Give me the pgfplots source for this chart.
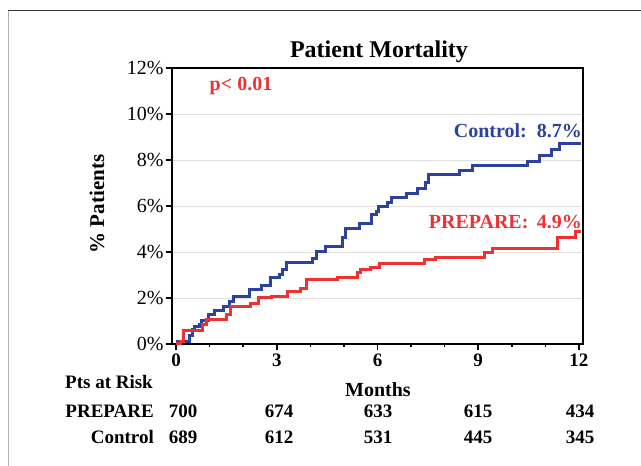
\documentclass[border=0pt]{standalone}
\usepackage{pgfplots}
\pgfplotsset{compat=1.18}
\usepackage{fontspec}
\setmainfont{Liberation Serif}
\newcommand\fs[1]{\fontsize{#1}{#1}\selectfont}
\definecolor{ctrlblue}{RGB}{44,66,160}
\definecolor{prepred}{RGB}{238,50,50}
\begin{document}
\begin{tikzpicture}
\useasboundingbox (0pt,0pt) rectangle (641pt,466pt);
\fill[white] (0pt,0pt) rectangle (641pt,466pt);
\draw[gray!60, line width=1.5pt] (8.5pt,0pt) -- (8.5pt,456pt);
\draw[black!80, line width=1.2pt] (8pt,455.5pt) -- (641pt,455.5pt);
\begin{axis}[
  at={(172pt,122pt)}, anchor=south west,
  scale only axis, width=411pt, height=276pt,
  xmin=-0.12, xmax=12.12, ymin=0, ymax=12,
  xtick={0,3,6,9,12}, minor xtick={1,2,4,5,7,8,10,11},
  ytick={0,2,4,6,8,10,12},
  yticklabels={0\%,2\%,4\%,6\%,8\%,10\%,12\%},
  xticklabels={0,3,6,9,12},
  xtick pos=bottom, ytick pos=left,
  tick align=outside,
  major tick length=6pt, minor tick length=3.5pt,
  every tick/.style={black, line width=1.5pt},
  axis line style={line width=2pt, black},
  ymajorgrids, major grid style={gray!25, line width=0.7pt},
  yticklabel style={font=\fs{20}, xshift=1pt},
  xticklabel style={font=\bfseries\fs{19}, yshift=0pt},
  clip=false,
]
\addplot[const plot, ctrlblue, line width=3pt] coordinates {
(0,0) (0.03,0.12) (0.41,0.35) (0.48,0.62) (0.55,0.74) (0.70,0.84) (0.77,1.0)
(0.97,1.28) (1.15,1.46) (1.40,1.64) (1.60,1.86) (1.72,2.07) (2.19,2.39)
(2.54,2.54) (2.81,2.87) (3.08,3.01) (3.18,3.23) (3.28,3.55) (4.05,3.70)
(4.18,4.03) (4.44,4.22) (4.97,4.61) (5.06,5.04) (5.46,5.26) (5.83,5.62)
(5.96,5.78) (6.03,5.99) (6.31,6.16) (6.43,6.35) (6.86,6.54) (7.20,6.74)
(7.44,7.0) (7.52,7.36) (8.44,7.54) (8.83,7.75) (10.48,7.94) (10.82,8.2)
(11.17,8.45) (11.42,8.71) (12.05,8.71)
};
\addplot[const plot, prepred, line width=3pt] coordinates {
(0,0) (0.13,0.12) (0.21,0.58) (0.80,0.84) (0.90,1.06) (1.50,1.28) (1.62,1.64)
(2.23,1.78) (2.46,2.0) (2.84,2.07) (3.33,2.29) (3.70,2.43) (3.88,2.80)
(4.82,2.91) (5.39,3.09) (5.49,3.23) (5.78,3.33) (6.06,3.52) (7.40,3.67)
(7.72,3.78) (9.19,3.96) (9.43,4.17) (11.37,4.61) (11.91,4.90) (12.05,4.90)
};
\end{axis}
\node[font=\bfseries\fs{21}, rotate=90] at (97pt,262pt) {\% Patients};
\node[font=\bfseries\fs{24}] at (379pt,414pt) {Patient Mortality};
\node[font=\bfseries\fs{20}, text=prepred] at (241pt,380pt) {p< 0.01};
\node[font=\bfseries\fs{20}, text=ctrlblue, anchor=east, inner sep=0pt] at (582pt,335pt) {Control:\, 8.7\%};
\node[font=\bfseries\fs{20}, text=prepred, anchor=east, inner sep=0pt] at (582pt,244pt) {PREPARE:\, 4.9\%};
\node[font=\bfseries\fs{20}] at (378pt,76pt) {Months};
\node[font=\bfseries\fs{19}, anchor=west, inner sep=0pt] at (65pt,84pt) {Pts at Risk};
\node[font=\bfseries\fs{19}, anchor=east, inner sep=0pt] at (154pt,55pt) {PREPARE};
\node[font=\bfseries\fs{19}, anchor=east, inner sep=0pt] at (154pt,29pt) {Control};
\foreach \x/\a/\b in {183/700/689, 279/674/612, 378/633/531, 478/615/445, 580/434/345}{
  \node[font=\bfseries\fs{19}] at (\x pt,55pt) {\a};
  \node[font=\bfseries\fs{19}] at (\x pt,29pt) {\b};
}
\end{tikzpicture}
\end{document}
